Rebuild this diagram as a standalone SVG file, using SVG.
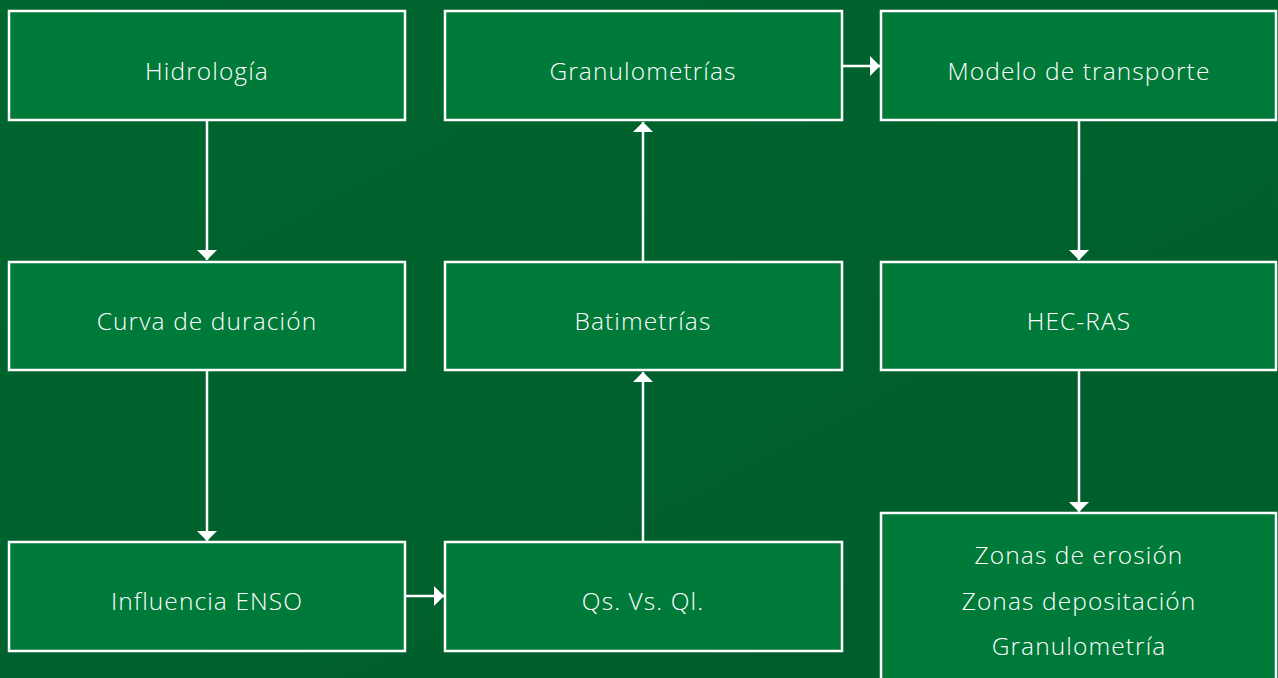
<svg xmlns="http://www.w3.org/2000/svg" width="1278" height="678" viewBox="0 0 1278 678">
  <defs>
    <linearGradient id="bg" x1="0" y1="0" x2="1" y2="1">
      <stop offset="0" stop-color="#00662f"/>
      <stop offset="1" stop-color="#005c2c"/>
    </linearGradient>
    <marker id="head" markerWidth="10" markerHeight="20" refX="10" refY="10" orient="auto" markerUnits="userSpaceOnUse">
      <path d="M0,0 L10,10 L0,20 Z" fill="#ffffff"/>
    </marker>
    <style>
      .box { fill: #007a39; stroke: #ffffff; stroke-width: 2.5; }
      .lbl { font-family: "Open Sans", "Liberation Sans", sans-serif; font-size: 24.5px; font-weight: 300; letter-spacing: 1.1px; fill: #ffffff; text-anchor: middle; dominant-baseline: central; }
      .link { stroke: #ffffff; stroke-width: 2.5; fill: none; marker-end: url(#head); }
    </style>
  </defs>

  <rect width="1278" height="678" fill="url(#bg)"/>

  <g id="connectors">
    <line class="link" x1="207" y1="121" x2="207" y2="260"/>
    <line class="link" x1="207" y1="371" x2="207" y2="541"/>
    <line class="link" x1="406" y1="596" x2="444" y2="596"/>
    <line class="link" x1="643" y1="541" x2="643" y2="372"/>
    <line class="link" x1="643" y1="261" x2="643" y2="122"/>
    <line class="link" x1="842" y1="66" x2="880" y2="66"/>
    <line class="link" x1="1079" y1="121" x2="1079" y2="260"/>
    <line class="link" x1="1079" y1="371" x2="1079" y2="512"/>
  </g>

  <g id="hidrologia">
    <rect class="box" x="9" y="11" width="396" height="109"/>
    <text class="lbl" x="207" y="70">Hidrología</text>
  </g>
  <g id="curva-duracion">
    <rect class="box" x="9" y="262" width="396" height="108"/>
    <text class="lbl" x="207" y="320">Curva de duración</text>
  </g>
  <g id="influencia-enso">
    <rect class="box" x="9" y="542" width="396" height="109"/>
    <text class="lbl" x="207" y="600">Influencia ENSO</text>
  </g>
  <g id="granulometrias">
    <rect class="box" x="445" y="11" width="397" height="109"/>
    <text class="lbl" x="643" y="70">Granulometrías</text>
  </g>
  <g id="batimetrias">
    <rect class="box" x="445" y="262" width="397" height="108"/>
    <text class="lbl" x="643" y="320">Batimetrías</text>
  </g>
  <g id="qs-ql">
    <rect class="box" x="445" y="542" width="397" height="109"/>
    <text class="lbl" x="643" y="600">Qs. Vs. Ql.</text>
  </g>
  <g id="modelo-transporte">
    <rect class="box" x="881" y="11" width="395" height="109"/>
    <text class="lbl" x="1079" y="70">Modelo de transporte</text>
  </g>
  <g id="hec-ras">
    <rect class="box" x="881" y="262" width="395" height="108"/>
    <text class="lbl" x="1079" y="320">HEC-RAS</text>
  </g>
  <g id="resultados">
    <rect class="box" x="881" y="513" width="395" height="180"/>
    <text class="lbl" x="1079" y="554">Zonas de erosión</text>
    <text class="lbl" x="1079" y="600">Zonas depositación</text>
    <text class="lbl" x="1079" y="645">Granulometría</text>
  </g>
</svg>
